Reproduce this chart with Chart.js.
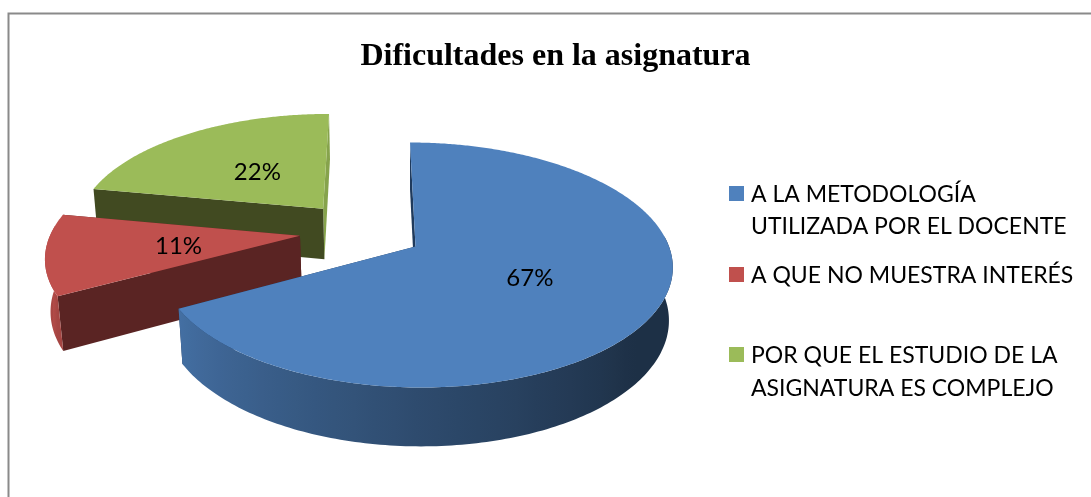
<!DOCTYPE html>
<html>
<head>
<meta charset="utf-8">
<style>
  html, body { margin: 0; padding: 0; background: #fff; }
  canvas { display: block; }
</style>
<script src="https://cdn.jsdelivr.net/npm/chart.js@4"></script>
</head>
<body>
<canvas id="myChart" width="1091" height="497"></canvas>
<script>
const categories = [
  "A LA METODOLOGÍA UTILIZADA POR EL DOCENTE",
  "A QUE NO MUESTRA INTERÉS",
  "POR QUE EL ESTUDIO DE LA ASIGNATURA ES COMPLEJO",
];
const values = [67, 11, 22];
const legendLines = [
  ["A LA METODOLOGÍA", "UTILIZADA POR EL DOCENTE"],
  ["A QUE NO MUESTRA INTERÉS"],
  ["POR QUE EL ESTUDIO DE LA", "ASIGNATURA ES COMPLEJO"],
];

const topColors = ["#4f81bd", "#c0504d", "#9bbb59"];
const sideColors = ["#1f3a5c", "#5a2423", "#414a21"];
const endSideColors = ["#1f3a5c", "#5a2423", "#86a34c"];
const labelFont = "Lato";

// perspective of the tilted pie, fitted by eye
const view = { cx: 415.5, cy: 246.5, rx: 253.5, ry: 119.7, depth: 53, persp: 0.151, shrink: 0.015, shear: 5.5 };
// how far each slice is pulled out, in pie radii
const explode = [{ u: 0, v: 0 }, { u: -0.46, v: -0.09 }, { u: -0.375, v: -0.33 }];
const labelShift = [{ x: -0.5, y: 0.5 }, { x: 4.5, y: 1.5 }, { x: 4.5, y: 3.5 }];
const legendRows = [
  { swatchY: 186, baselines: [202, 234] },
  { swatchY: 267, baselines: [283] },
  { swatchY: 347, baselines: [363, 396] },
];

function project(u, v, z) {
  const w = 1 - view.persp * v + view.shrink * z;
  return {
    x: view.cx + (view.rx * u) / w + view.shear * v,
    y: view.cy + (view.ry * v + view.depth * z) / w,
  };
}

function rimPoint(i, angle, z, r) {
  return project(explode[i].u + r * Math.cos(angle), explode[i].v + r * Math.sin(angle), z);
}

function fillPoly(ctx, points, color) {
  ctx.beginPath();
  points.forEach((p, n) => (n ? ctx.lineTo(p.x, p.y) : ctx.moveTo(p.x, p.y)));
  ctx.closePath();
  ctx.fillStyle = color;
  ctx.fill();
}

function wallShade(angle) {
  // clockwise degrees from 12 o'clock -> brightness of the outer wall
  const deg = ((angle + Math.PI / 2) * 180) / Math.PI;
  const stops = [[0, 0.36], [130, 0.37], [180, 0.58], [241, 0.86], [281, 0.95], [360, 0.95]];
  for (let n = 1; n < stops.length; n++) {
    if (deg <= stops[n][0]) {
      const t = (deg - stops[n - 1][0]) / (stops[n][0] - stops[n - 1][0]);
      return stops[n - 1][1] + t * (stops[n][1] - stops[n - 1][1]);
    }
  }
  return 0.95;
}

function shade(hex, f) {
  const n = parseInt(hex.slice(1), 16);
  return `rgb(${Math.round((n >> 16) * f)},${Math.round(((n >> 8) & 255) * f)},${Math.round((n & 255) * f)})`;
}

function drawWall(ctx, i, start, end) {
  // only the part of the rim that faces the viewer
  const angles = [];
  for (let a = start; a < end; a += Math.PI / 180) {
    if (Math.sin(a) > -0.1) angles.push(a);
  }
  if (angles.length < 2) return;
  if (Math.sin(end) > -0.1) angles.push(end);

  const upper = angles.map(a => rimPoint(i, a, 0, 1));
  const lower = angles.map(a => rimPoint(i, a, 1, 1)).reverse();

  // the shading runs left to right, as a horizontal gradient
  const xs = upper.map(p => p.x);
  const minX = Math.min(...xs);
  const maxX = Math.max(...xs);
  const gradient = ctx.createLinearGradient(minX, 0, maxX, 0);
  angles.forEach((a, n) => {
    if (n % 4 === 0) {
      gradient.addColorStop((xs[n] - minX) / (maxX - minX), shade(topColors[i], wallShade(a)));
    }
  });
  fillPoly(ctx, upper.concat(lower), gradient);
}

function drawSlice(ctx, i, arc) {
  const start = arc.startAngle;
  const end = arc.endAngle;

  // the two cut faces
  fillPoly(ctx, [rimPoint(i, end, 0, 0), rimPoint(i, end, 0, 1), rimPoint(i, end, 1, 1), rimPoint(i, end, 1, 0)], endSideColors[i]);
  fillPoly(ctx, [rimPoint(i, start, 0, 0), rimPoint(i, start, 0, 1), rimPoint(i, start, 1, 1), rimPoint(i, start, 1, 0)], sideColors[i]);

  drawWall(ctx, i, start, end);

  // top face
  const top = [rimPoint(i, start, 0, 0)];
  for (let a = start; a < end; a += Math.PI / 360) {
    top.push(rimPoint(i, a, 0, 1));
  }
  top.push(rimPoint(i, end, 0, 1));
  fillPoly(ctx, top, topColors[i]);
}

const pie3d = {
  id: "pie3d",
  beforeDraw(chart) {
    const ctx = chart.ctx;
    ctx.save();
    ctx.strokeStyle = "#8a8a8a";
    ctx.lineWidth = 2;
    ctx.beginPath();
    ctx.moveTo(8.5, 497);
    ctx.lineTo(8.5, 13.5);
    ctx.lineTo(1091, 13.5);
    ctx.stroke();
    ctx.restore();
  },
  beforeDatasetDraw(chart, args) {
    const ctx = chart.ctx;
    const arcs = chart.getDatasetMeta(args.index).data;
    ctx.save();
    [2, 1, 0].forEach(i => drawSlice(ctx, i, arcs[i]));
    ctx.restore();
    return false; // the projected slices replace the flat ones
  },
  afterDatasetsDraw(chart) {
    const ctx = chart.ctx;
    const arcs = chart.getDatasetMeta(0).data;
    const total = values.reduce((a, b) => a + b, 0);
    ctx.save();
    ctx.fillStyle = "#000";
    ctx.textAlign = "center";
    ctx.textBaseline = "middle";
    ctx.font = "24px " + labelFont;
    values.forEach((value, i) => {
      const mid = (arcs[i].startAngle + arcs[i].endAngle) / 2;
      const p = rimPoint(i, mid, 0, 0.5);
      ctx.fillText(Math.round((value / total) * 100) + "%", p.x + labelShift[i].x, p.y + labelShift[i].y);
    });

    // legend: rows are unevenly spaced in the original
    ctx.textAlign = "left";
    ctx.textBaseline = "alphabetic";
    ctx.font = "23px " + labelFont;
    legendLines.forEach((lines, i) => {
      ctx.fillStyle = topColors[i];
      ctx.fillRect(729, legendRows[i].swatchY, 15, 15);
      ctx.fillStyle = "#000";
      lines.forEach((line, n) => ctx.fillText(line, 751, legendRows[i].baselines[n]));
    });
    ctx.restore();
  },
};

const config = {
  type: "pie",
  data: {
    labels: categories,
    datasets: [{ data: values, backgroundColor: topColors, borderWidth: 0 }],
  },
  options: {
    responsive: false,
    animation: false,
    layout: { padding: { left: 20, top: 38 } },
    plugins: {
      legend: { display: false },
      tooltip: { enabled: false },
      title: {
        display: true,
        text: "Dificultades en la asignatura",
        color: "#000",
        font: { family: "Liberation Serif", size: 32, weight: "bold" },
        padding: 0,
      },
    },
  },
  plugins: [pie3d],
};

new Chart(document.getElementById("myChart"), config);
</script>
</body>
</html>
